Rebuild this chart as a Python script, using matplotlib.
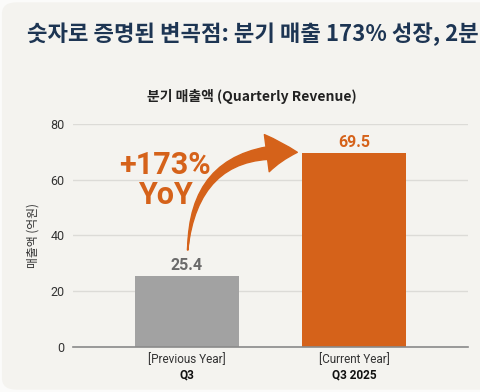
import matplotlib.pyplot as plt
from matplotlib.patches import FancyArrowPatch, FancyBboxPatch

plt.rcParams['font.family'] = ['Noto Sans CJK KR', 'DejaVu Sans']

# 데이터
periods = ['[Previous Year]', '[Current Year]']
quarters = ['Q3', 'Q3 2025']
revenue = [25.4, 69.5]
growth_label = '+173%\nYoY'

bar_colors = ['#a2a2a2', '#d5621a']
label_colors = ['#6a6a6a', '#d5621a']
orange = '#d5621a'
num_font = ['Roboto', 'DejaVu Sans']

fig = plt.figure(figsize=(4.81, 3.92), dpi=100)
fig.patch.set_facecolor('#fbfbfa')

# 카드 배경 (오른쪽은 잘림)
card = FancyBboxPatch((0.004, 0.006), 1.2, 0.988, boxstyle='round,pad=0,rounding_size=0.03',
                      transform=fig.transFigure, facecolor='#f4f3ef', edgecolor='none', zorder=-5)
fig.patches.append(card)

fig.text(0.056, 0.915, '숫자로 증명된 변곡점: 분기 매출 173% 성장, 2분',
         fontsize=16, fontweight='bold', color='#1d3553', ha='left', va='center')

fig.text(0.524, 0.755, '분기 매출액 (Quarterly Revenue)', fontsize=10, fontweight='bold',
         color='#222222', ha='center', va='center')

ax = fig.add_axes([0.152, 0.115, 0.821, 0.569])
ax.set_facecolor('none')

x = range(len(revenue))
ax.bar(x, revenue, width=0.62, color=bar_colors, zorder=3)
ax.set_xlim(-0.68, 1.68)
ax.set_ylim(0, 80)
ax.set_yticks([0, 20, 40, 60, 80])
ax.grid(axis='y', color='#dcdbd7', linewidth=1, zorder=0)
for s in ['left', 'right', 'top']:
    ax.spines[s].set_visible(False)
ax.spines['bottom'].set_color('#8a8a8a')
ax.spines['bottom'].set_linewidth(1.2)
ax.spines['bottom'].set_zorder(4)
ax.tick_params(axis='y', length=0, labelsize=9, labelcolor='#333333', pad=6)
ax.tick_params(axis='x', length=0)
ax.set_xticks([])
for lab in ax.get_yticklabels():
    lab.set_family(num_font)

ax.set_ylabel('매출액 (억원)', fontsize=8.5, color='#333333', labelpad=8)

# 막대 값
for i, v in enumerate(revenue):
    ax.text(i, v + 1.2, f'{v}', ha='center', va='bottom', fontsize=11.5,
            fontweight='bold', color=label_colors[i], family=num_font)

# x 라벨
for i in x:
    ax.text(i, -2.2, periods[i], ha='center', va='top', fontsize=8.5,
            color='#333333', family=num_font, clip_on=False)
    ax.text(i, -7.8, quarters[i], ha='center', va='top', fontsize=8.5,
            fontweight='bold', color='#111111', family=num_font, clip_on=False)

# 성장 화살표: 끝으로 갈수록 두꺼워지는 몸통 + 머리
start = (0.005, 34.8)
end = (0.66, 69.8)
body = FancyArrowPatch(end, start, connectionstyle='arc3,rad=0.5',
                       arrowstyle='wedge,tail_width=10,shrink_factor=0.5',
                       color=orange, mutation_scale=1, zorder=5, clip_on=False,
                       shrinkA=14, shrinkB=0)
ax.add_patch(body)
head = FancyArrowPatch(start, end, connectionstyle='arc3,rad=-0.5',
                       arrowstyle='simple,head_width=27,head_length=22,tail_width=0.5',
                       color=orange, mutation_scale=1, zorder=5, clip_on=False,
                       shrinkA=0, shrinkB=0)
ax.add_patch(head)

ax.text(-0.13, 59.8, growth_label, ha='center', va='center', fontsize=22,
        fontweight='bold', color=orange, linespacing=1.0,
        family=num_font, zorder=6)

fig.savefig('out.png', dpi=100, facecolor=fig.get_facecolor())
